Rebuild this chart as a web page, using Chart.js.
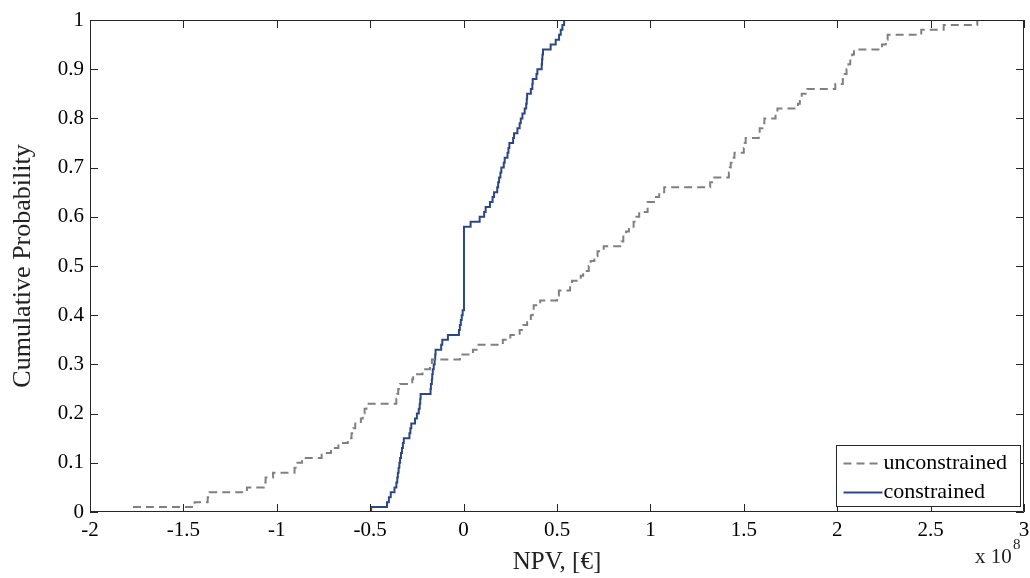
<!DOCTYPE html>
<html>
<head>
<meta charset="utf-8">
<title>NPV cumulative probability</title>
<script src="https://cdn.jsdelivr.net/npm/chart.js@4.4.1/dist/chart.umd.min.js"></script>
<style>
  html, body { margin: 0; padding: 0; background: #fff; }
  #chartNpv { display: block; }
</style>
</head>
<body>
<canvas id="chartNpv" width="1030" height="578"></canvas>
<script>
'use strict';

// NPV in units of 10^8 EUR, cumulative probability at each step
var unconstrainedNpv = [-1.77, -1.44, -1.37, -1.36, -1.16, -1.07, -1.06, -1.02, -0.905, -0.89,
  -0.865, -0.76, -0.71, -0.67, -0.62, -0.60, -0.59, -0.58, -0.55, -0.54,
  -0.53, -0.52, -0.36, -0.355, -0.35, -0.34, -0.275, -0.27, -0.22, -0.18,
  -0.17, -0.02, 0.05, 0.08, 0.21, 0.25, 0.30, 0.32, 0.34, 0.36,
  0.37, 0.375, 0.41, 0.50, 0.51, 0.57, 0.58, 0.627, 0.64, 0.67,
  0.68, 0.70, 0.717, 0.75, 0.845, 0.855, 0.87, 0.885, 0.91, 0.925,
  0.94, 0.985, 1.03, 1.047, 1.074, 1.32, 1.33, 1.42, 1.425, 1.43,
  1.44, 1.45, 1.50, 1.505, 1.51, 1.58, 1.585, 1.60, 1.61, 1.67,
  1.68, 1.79, 1.80, 1.81, 1.84, 1.99, 2.03, 2.04, 2.05, 2.06,
  2.07, 2.08, 2.09, 2.24, 2.26, 2.27, 2.45, 2.57, 2.75];
var unconstrainedProb = [0.01, 0.02, 0.03, 0.04, 0.05, 0.06, 0.07, 0.08, 0.09, 0.10,
  0.11, 0.12, 0.13, 0.14, 0.15, 0.16, 0.17, 0.18, 0.19, 0.20,
  0.21, 0.22, 0.23, 0.24, 0.25, 0.26, 0.27, 0.28, 0.29, 0.30,
  0.31, 0.32, 0.33, 0.34, 0.35, 0.36, 0.37, 0.38, 0.39, 0.40,
  0.41, 0.42, 0.43, 0.44, 0.45, 0.46, 0.47, 0.48, 0.49, 0.50,
  0.51, 0.52, 0.53, 0.54, 0.55, 0.56, 0.57, 0.58, 0.59, 0.60,
  0.61, 0.63, 0.64, 0.65, 0.66, 0.67, 0.68, 0.69, 0.70, 0.71,
  0.72, 0.73, 0.74, 0.75, 0.76, 0.77, 0.78, 0.79, 0.80, 0.81,
  0.82, 0.83, 0.84, 0.85, 0.86, 0.87, 0.88, 0.89, 0.90, 0.91,
  0.92, 0.93, 0.94, 0.95, 0.96, 0.97, 0.98, 0.99, 1.00];

var constrainedNpv = [-0.495, -0.495, -0.41, -0.40, -0.39, -0.37, -0.36, -0.355, -0.352, -0.348,
  -0.344, -0.34, -0.335, -0.33, -0.325, -0.32, -0.29, -0.285, -0.28, -0.26,
  -0.25, -0.24, -0.235, -0.232, -0.23, -0.177, -0.175, -0.17, -0.168, -0.165,
  -0.16, -0.155, -0.152, -0.15, -0.12, -0.114, -0.084, -0.025, -0.02, -0.015,
  -0.01, -0.005, 0.002, 0.0375, 0.086, 0.11, 0.118, 0.141, 0.155, 0.163,
  0.18, 0.185, 0.19, 0.197, 0.202, 0.215, 0.22, 0.235, 0.24, 0.245,
  0.265, 0.27, 0.288, 0.30, 0.306, 0.315, 0.327, 0.335, 0.338, 0.34,
  0.36, 0.368, 0.37, 0.39, 0.395, 0.418, 0.42, 0.422, 0.425, 0.466,
  0.493, 0.511, 0.52, 0.529, 0.538];
var constrainedProb = [0, 0.01, 0.02, 0.03, 0.04, 0.05, 0.06, 0.07, 0.08, 0.09,
  0.10, 0.11, 0.12, 0.13, 0.14, 0.15, 0.16, 0.17, 0.18, 0.19,
  0.20, 0.21, 0.22, 0.23, 0.24, 0.25, 0.26, 0.27, 0.28, 0.29,
  0.30, 0.31, 0.32, 0.33, 0.34, 0.35, 0.36, 0.37, 0.38, 0.39,
  0.40, 0.41, 0.58, 0.59, 0.60, 0.61, 0.62, 0.63, 0.64, 0.65,
  0.66, 0.67, 0.68, 0.69, 0.70, 0.71, 0.72, 0.73, 0.74, 0.75,
  0.76, 0.77, 0.78, 0.79, 0.80, 0.81, 0.82, 0.83, 0.84, 0.85,
  0.86, 0.87, 0.88, 0.89, 0.90, 0.91, 0.92, 0.93, 0.94, 0.95,
  0.96, 0.97, 0.98, 0.99, 1.00];

var seriesLabels = ['unconstrained', 'constrained'];
var xTicks = [-2, -1.5, -1, -0.5, 0, 0.5, 1, 1.5, 2, 2.5, 3];
var yTicks = [0, 0.1, 0.2, 0.3, 0.4, 0.5, 0.6, 0.7, 0.8, 0.9, 1];

var serif = '"Liberation Serif", "Times New Roman", serif';
var grayColor = 'rgb(128, 128, 128)';
var blueColor = 'rgb(44, 72, 130)';

function toPoints(xs, ys) {
    return xs.map(function (x, i) { return { x: x, y: ys[i] }; });
}

function fmt(v) {
    return String(+v.toFixed(1));
}

// box, inward ticks on all four sides, legend and the exponent note
var matlabAxes = {
    id: 'matlabAxes',
    afterDatasetsDraw: function (chart) {
        var ctx = chart.ctx;
        var a = chart.chartArea;
        var xs = chart.scales.x;
        var ys = chart.scales.y;
        var tl = 8;
        ctx.save();
        ctx.strokeStyle = '#262626';
        ctx.lineWidth = 1;
        ctx.beginPath();
        ctx.rect(a.left + 0.5, a.top + 0.5, a.right - a.left - 1, a.bottom - a.top - 1);
        xTicks.forEach(function (t) {
            var px = Math.round(xs.getPixelForValue(t)) + 0.5;
            ctx.moveTo(px, a.bottom); ctx.lineTo(px, a.bottom - tl);
            ctx.moveTo(px, a.top); ctx.lineTo(px, a.top + tl);
        });
        yTicks.forEach(function (t) {
            var py = Math.round(ys.getPixelForValue(t)) + 0.5;
            ctx.moveTo(a.left, py); ctx.lineTo(a.left + tl, py);
            ctx.moveTo(a.right, py); ctx.lineTo(a.right - tl, py);
        });
        ctx.stroke();

        // legend
        var bx = 836.5, by = 445.5, bw = 184, bh = 61;
        ctx.fillStyle = '#fff';
        ctx.fillRect(bx, by, bw, bh);
        ctx.strokeStyle = '#262626';
        ctx.strokeRect(bx, by, bw, bh);
        ctx.font = '22px ' + serif;
        ctx.textBaseline = 'middle';
        ctx.textAlign = 'left';
        chart.data.datasets.forEach(function (ds, i) {
            var ly = by + 18 + i * 29;
            ctx.save();
            ctx.strokeStyle = ds.borderColor;
            ctx.lineWidth = ds.borderWidth;
            ctx.setLineDash(ds.borderDash || []);
            ctx.beginPath();
            ctx.moveTo(bx + 7, ly);
            ctx.lineTo(bx + 46, ly);
            ctx.stroke();
            ctx.restore();
            ctx.fillStyle = '#000';
            ctx.fillText(ds.label, bx + 47, ly);
        });

        // x 10^8
        ctx.fillStyle = '#222';
        ctx.textBaseline = 'alphabetic';
        ctx.font = '21px ' + serif;
        ctx.fillText('x 10', 975, 563);
        ctx.font = '15px ' + serif;
        ctx.fillText('8', 1013, 549);
        ctx.restore();
    }
};

var ctxNpv = document.getElementById('chartNpv').getContext('2d');
var chartNpv = new Chart(ctxNpv, {
    type: 'line',
    data: {
        datasets: [
            {
                label: seriesLabels[0],
                data: toPoints(unconstrainedNpv, unconstrainedProb),
                borderColor: grayColor,
                borderWidth: 2,
                borderDash: [8, 5],
                stepped: 'before',
                pointRadius: 0,
                fill: false
            },
            {
                label: seriesLabels[1],
                data: toPoints(constrainedNpv, constrainedProb),
                borderColor: blueColor,
                borderWidth: 2,
                stepped: 'before',
                pointRadius: 0,
                fill: false
            }
        ]
    },
    options: {
        responsive: false,
        animation: false,
        devicePixelRatio: 1,
        layout: { padding: { left: 0, right: 6, top: 20, bottom: 0 } },
        plugins: {
            legend: { display: false },
            tooltip: { enabled: false }
        },
        scales: {
            x: {
                type: 'linear',
                min: -2,
                max: 3,
                afterBuildTicks: function (scale) {
                    scale.ticks = xTicks.map(function (v) { return { value: v }; });
                },
                afterFit: function (scale) {
                    scale.height = 66;
                    scale.paddingLeft = 0;
                    scale.paddingRight = 0;
                },
                grid: { display: true, drawOnChartArea: false, drawTicks: false },
                border: { display: false },
                ticks: {
                    color: '#000',
                    padding: 6,
                    maxRotation: 0,
                    autoSkip: false,
                    font: { family: serif, size: 21 },
                    callback: function (v) { return fmt(v); }
                },
                title: {
                    display: true,
                    text: 'NPV, [€]',
                    color: '#222',
                    font: { family: serif, size: 25 },
                    padding: { top: 0, bottom: 1 }
                }
            },
            y: {
                type: 'linear',
                min: 0,
                max: 1,
                afterBuildTicks: function (scale) {
                    scale.ticks = yTicks.map(function (v) { return { value: v }; });
                },
                afterFit: function (scale) {
                    scale.width = 90;
                    scale.paddingTop = 0;
                    scale.paddingBottom = 0;
                },
                grid: { display: true, drawOnChartArea: false, drawTicks: false },
                border: { display: false },
                ticks: {
                    color: '#000',
                    padding: 6,
                    autoSkip: false,
                    font: { family: serif, size: 21 },
                    callback: function (v) { return fmt(v); }
                },
                title: {
                    display: true,
                    text: 'Cumulative Probability',
                    color: '#222',
                    font: { family: serif, size: 26 },
                    padding: { top: 8, bottom: 0 }
                }
            }
        }
    },
    plugins: [matlabAxes]
});
</script>
</body>
</html>
